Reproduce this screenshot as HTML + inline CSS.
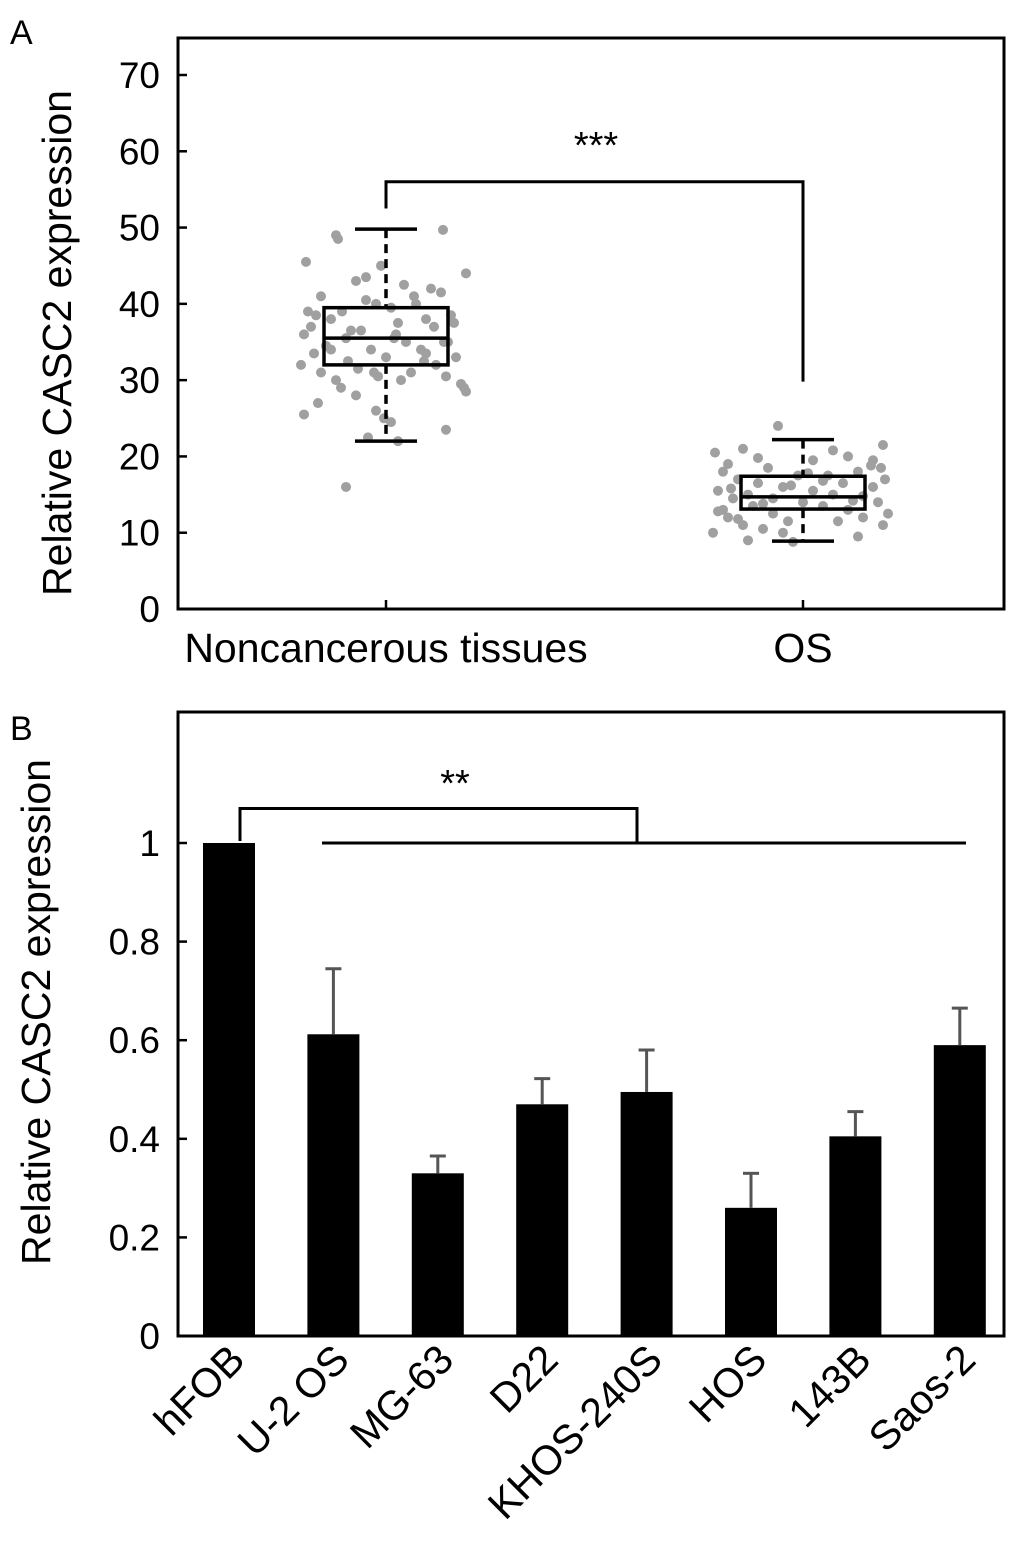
<!DOCTYPE html>
<html><head><meta charset="utf-8"><style>
body{margin:0;background:#fff;}
svg{display:block;font-family:"Liberation Sans",Arial,sans-serif;}
</style></head><body>
<svg id="fig" width="1027" height="1550" viewBox="0 0 1027 1550"></svg>
<script>
// ---- Panel A data ----
const groupsA = ["Noncancerous tissues","OS"];
const boxMin = [22, 8.9], boxQ1 = [32, 13.1], boxMed = [35.5, 14.7], boxQ3 = [39.5, 17.4], boxMax = [49.8, 22.2];
const yTicksA = [0,10,20,30,40,50,60,70];
const ptsNonVal = [49,48.5,45.5,45,43,44,49.7,42.5,42,41.5,41,40.5,40,40,39.5,39,38.5,38,38,37.5,37,37,36.5,36,36,35.5,35,35,34.5,34,34,33.5,33,33,32.5,32,32,31.5,31,31,30.5,30,30,29.5,29,28.5,28,27,26,25.5,25,24.5,23.5,22.5,22,16,43.5,41,39,37.5,35.5,34,32.5,30.5,29,36.5,38.5,35,33.5,31];
const ptsNonOff = [-50,-48,-80,-5,-30,80,57,18,45,55,-65,-20,-10,30,5,-78,65,-55,40,12,-75,48,-25,-82,10,-40,20,58,-60,-15,35,-72,0,70,-38,-85,50,-28,25,-65,60,-50,15,75,-45,80,-30,-68,-10,-82,-2,5,60,-18,12,-40,-20,28,-44,68,8,-55,38,-8,78,-35,-70,62,40,-12,-52];
const ptsOsVal = [24,21.5,21,20.5,20,19.5,19.5,19,18.5,18.5,18,18,17.5,17.5,17,17,16.5,16.5,16,16,15.5,15.5,15,15,14.8,14.5,14.5,14,14,13.5,13.5,13,13,12.5,12.5,12,12,11.5,11.5,11,11,10.5,10,10,9.5,9,8.8,12.8,13.8,15.8,16.8,18.8,20.8,11.8,14.2,16.2,17.8,19.8];
const ptsOsOff = [-25,80,-60,-88,45,70,10,-75,-35,78,-80,55,-5,25,-65,82,-45,40,-20,70,-85,10,-55,30,60,-30,-70,0,75,-50,20,-80,45,-30,85,-75,60,-15,35,-60,80,-40,-90,-20,55,-55,-10,-85,-40,-72,20,68,30,-65,50,-12,5,-45];
// ---- Panel B data ----
const cells = ["hFOB","U-2 OS","MG-63","D22","KHOS-240S","HOS","143B","Saos-2"];
const means = [1.0,0.612,0.33,0.47,0.495,0.26,0.405,0.59];
const errs = [0.0,0.133,0.035,0.052,0.085,0.07,0.05,0.075];
const yTicksB = ["0","0.2","0.4","0.6","0.8","1"];

const NS="http://www.w3.org/2000/svg";
const svg=document.getElementById('fig');
function mk(tag,attrs,name,parent){const e=document.createElementNS(NS,tag);for(const k in attrs)e.setAttribute(k,attrs[k]);


(parent||svg).appendChild(e);return e;}
function txt(s,attrs,name,parent){const e=mk('text',attrs,name,parent);e.textContent=s;return e;}

const TICK=37, TITLE=41, XL=41;
// Panel A scales
const yA=v=>609-v*(534/70);
const xA=i=>[386,803][i];
txt("A",{x:10,y:44,'font-size':34},'panel-a-label');
const gA=mk('g',{},'panel-a');
ptsNonVal.forEach((v,i)=>mk('circle',{cx:xA(0)+ptsNonOff[i],cy:yA(v),r:5,fill:'#a0a0a0'},'point-noncancerous',gA));
ptsOsVal.forEach((v,i)=>mk('circle',{cx:xA(1)+ptsOsOff[i],cy:yA(v),r:5,fill:'#a0a0a0'},'point-os',gA));
groupsA.forEach((g,i)=>{
  const c=xA(i);
  mk('line',{x1:c,x2:c,y1:yA(boxMax[i]),y2:yA(boxQ3[i]),stroke:'#000','stroke-width':3.5,'stroke-dasharray':'9,6'},'whisker-upper',gA);
  mk('line',{x1:c,x2:c,y1:yA(boxQ1[i]),y2:yA(boxMin[i]),stroke:'#000','stroke-width':3.5,'stroke-dasharray':'9,6'},'whisker-lower',gA);
  mk('line',{x1:c-31,x2:c+31,y1:yA(boxMax[i]),y2:yA(boxMax[i]),stroke:'#000','stroke-width':3.5},'whisker-cap-upper',gA);
  mk('line',{x1:c-31,x2:c+31,y1:yA(boxMin[i]),y2:yA(boxMin[i]),stroke:'#000','stroke-width':3.5},'whisker-cap-lower',gA);
  mk('rect',{x:c-62,y:yA(boxQ3[i]),width:124,height:yA(boxQ1[i])-yA(boxQ3[i]),fill:'none',stroke:'#000','stroke-width':3.5},'box-'+i,gA);
  mk('line',{x1:c-62,x2:c+62,y1:yA(boxMed[i]),y2:yA(boxMed[i]),stroke:'#000','stroke-width':3.5},'median-line',gA);
  mk('line',{x1:c,x2:c,y1:609,y2:600,stroke:'#000','stroke-width':2.5},'x-tick',gA);
  txt(g,{x:c,y:662,'font-size':XL,'text-anchor':'middle'},'x-label-'+i,gA);
});
mk('rect',{x:178,y:38,width:826,height:571,fill:'none',stroke:'#000','stroke-width':3},'plot-frame-a',gA);
yTicksA.forEach(t=>{mk('line',{x1:178,x2:187,y1:yA(t),y2:yA(t),stroke:'#000','stroke-width':2.5},'y-tick',gA);
  txt(String(t),{x:160,y:yA(t)+13,'font-size':TICK,'text-anchor':'end'},'y-tick-label',gA);});
mk('polyline',{points:`${xA(0)},${yA(52.5)} ${xA(0)},${yA(56)} ${xA(1)},${yA(56)} ${xA(1)},${yA(29.8)}`,fill:'none',stroke:'#000','stroke-width':3},'significance-bracket-a',gA);
txt("***",{x:596,y:158,'font-size':38,'text-anchor':'middle'},'significance-stars-a',gA);
txt("Relative CASC2 expression",{x:0,y:0,'font-size':TITLE,'text-anchor':'middle',transform:'translate(71,343) rotate(-90)'},'y-axis-title-a',gA);

// Panel B
const yB=v=>1336-v*493;
const xB=i=>229+i*104.4;
txt("B",{x:10,y:740,'font-size':34},'panel-b-label');
const gB=mk('g',{},'panel-b');
cells.forEach((c,i)=>{
  const x=xB(i);
  mk('rect',{x:x-26,y:yB(means[i]),width:52,height:yB(0)-yB(means[i]),fill:'#000'},'bar-'+c.toLowerCase(),gB);
  if(errs[i]>0){
    mk('line',{x1:x,x2:x,y1:yB(means[i]),y2:yB(means[i]+errs[i]),stroke:'#555','stroke-width':3},'error-bar',gB);
    mk('line',{x1:x-8,x2:x+8,y1:yB(means[i]+errs[i]),y2:yB(means[i]+errs[i]),stroke:'#555','stroke-width':3},'error-cap',gB);
  }
  txt(c,{x:0,y:0,'font-size':XL,'text-anchor':'end',transform:`translate(${x+18},${1362}) rotate(-45)`},'x-label-'+i,gB);
});
mk('rect',{x:178,y:712,width:826,height:624,fill:'none',stroke:'#000','stroke-width':3},'plot-frame-b',gB);
yTicksB.forEach(t=>{const v=parseFloat(t);
  mk('line',{x1:178,x2:187,y1:yB(v),y2:yB(v),stroke:'#000','stroke-width':2.5},'y-tick',gB);
  txt(t,{x:160,y:yB(v)+13,'font-size':TICK,'text-anchor':'end'},'y-tick-label',gB);});
mk('polyline',{points:`${xB(0)+11},${yB(1.0)-2} ${xB(0)+11},${yB(1.07)} 637,${yB(1.07)} 637,${yB(1.0)}`,fill:'none',stroke:'#000','stroke-width':3},'significance-bracket-b',gB);
mk('line',{x1:322,x2:966,y1:yB(1.0),y2:yB(1.0),stroke:'#000','stroke-width':3},'comparison-line-b',gB);
txt("**",{x:455,y:796,'font-size':38,'text-anchor':'middle'},'significance-stars-b',gB);
txt("Relative CASC2 expression",{x:0,y:0,'font-size':TITLE,'text-anchor':'middle',transform:'translate(50,1012) rotate(-90)'},'y-axis-title-b',gB);
</script>
</body></html>
